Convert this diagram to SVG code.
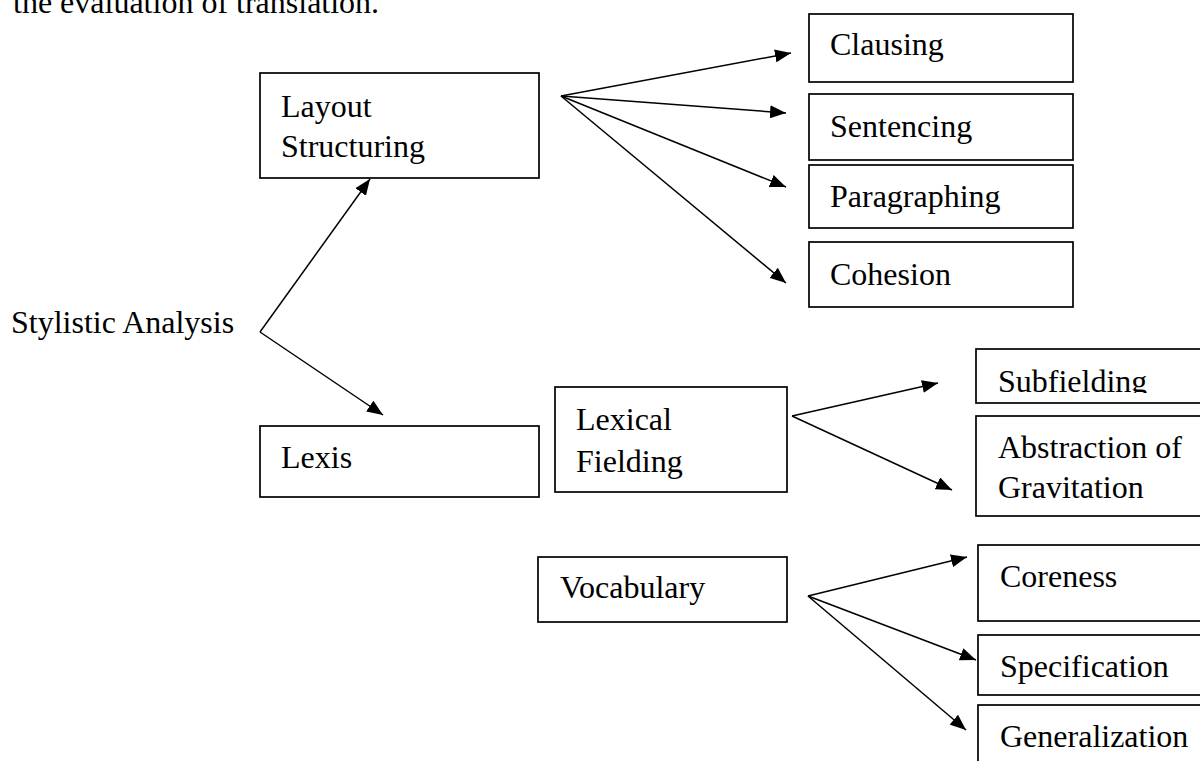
<svg xmlns="http://www.w3.org/2000/svg" width="1200" height="761" viewBox="0 0 1200 761">
<style>
.box{fill:#fff;stroke:#000;stroke-width:1.7}
.t{font-family:"Liberation Serif","Times New Roman",serif;font-size:32px;fill:#000}
.c{stroke:#000;stroke-width:1.5;fill:none;marker-end:url(#ah)}
</style>
<defs>
<marker id="ah" markerUnits="userSpaceOnUse" markerWidth="17" markerHeight="13" refX="16" refY="6.5" orient="auto">
<path d="M0,0 L16,6.5 L0,13 z" fill="#000"/>
</marker>
<clipPath id="clipSub"><rect x="976" y="349" width="230" height="44"/></clipPath>
</defs>
<rect width="1200" height="761" fill="#fff"/>
<text class="t" x="13" y="13">the evaluation of translation.</text>

<g id="connectors">
<line class="c" x1="260" y1="332" x2="370" y2="179"/>
<line class="c" x1="260" y1="332" x2="383" y2="415"/>
<line class="c" x1="561" y1="96" x2="791" y2="53"/>
<line class="c" x1="561" y1="96" x2="786" y2="113"/>
<line class="c" x1="561" y1="96" x2="786" y2="187"/>
<line class="c" x1="561" y1="96" x2="786" y2="283"/>
<line class="c" x1="792" y1="416" x2="938" y2="383"/>
<line class="c" x1="792" y1="416" x2="952" y2="490"/>
<line class="c" x1="808" y1="596" x2="967" y2="557"/>
<line class="c" x1="808" y1="596" x2="976" y2="660"/>
<line class="c" x1="808" y1="596" x2="966" y2="730"/>
</g>

<g id="stylistic"><text class="t" x="11" y="333">Stylistic Analysis</text></g>

<g id="layout"><rect class="box" x="260" y="73" width="279" height="105"/>
<text class="t" x="281" y="117">Layout</text><text class="t" x="281" y="157">Structuring</text></g>

<g id="clausing"><rect class="box" x="809" y="14" width="264" height="68"/><text class="t" x="830" y="55">Clausing</text></g>
<g id="sentencing"><rect class="box" x="809" y="94" width="264" height="66"/><text class="t" x="830" y="137">Sentencing</text></g>
<g id="paragraphing"><rect class="box" x="809" y="165" width="264" height="63"/><text class="t" x="830" y="207">Paragraphing</text></g>
<g id="cohesion"><rect class="box" x="809" y="242" width="264" height="65"/><text class="t" x="830" y="285">Cohesion</text></g>

<g id="lexis"><rect class="box" x="260" y="426" width="279" height="71"/><text class="t" x="281" y="468">Lexis</text></g>

<g id="lexical-fielding"><rect class="box" x="555" y="387" width="232" height="105"/>
<text class="t" x="576" y="430">Lexical</text><text class="t" x="576" y="472">Fielding</text></g>

<g id="vocabulary"><rect class="box" x="538" y="557" width="249" height="65"/><text class="t" x="560" y="598">Vocabulary</text></g>

<g id="subfielding"><rect class="box" x="976" y="349" width="240" height="54"/>
<text class="t" x="998" y="392" clip-path="url(#clipSub)">Subfielding</text></g>
<g id="abstraction"><rect class="box" x="976" y="416" width="240" height="100"/>
<text class="t" x="998" y="458">Abstraction of</text><text class="t" x="998" y="498">Gravitation</text></g>

<g id="coreness"><rect class="box" x="978" y="545" width="240" height="76"/><text class="t" x="1000" y="587">Coreness</text></g>
<g id="specification"><rect class="box" x="978" y="635" width="240" height="60"/><text class="t" x="1000" y="677">Specification</text></g>
<g id="generalization"><rect class="box" x="978" y="705" width="240" height="80"/><text class="t" x="1000" y="747">Generalization</text></g>
</svg>
